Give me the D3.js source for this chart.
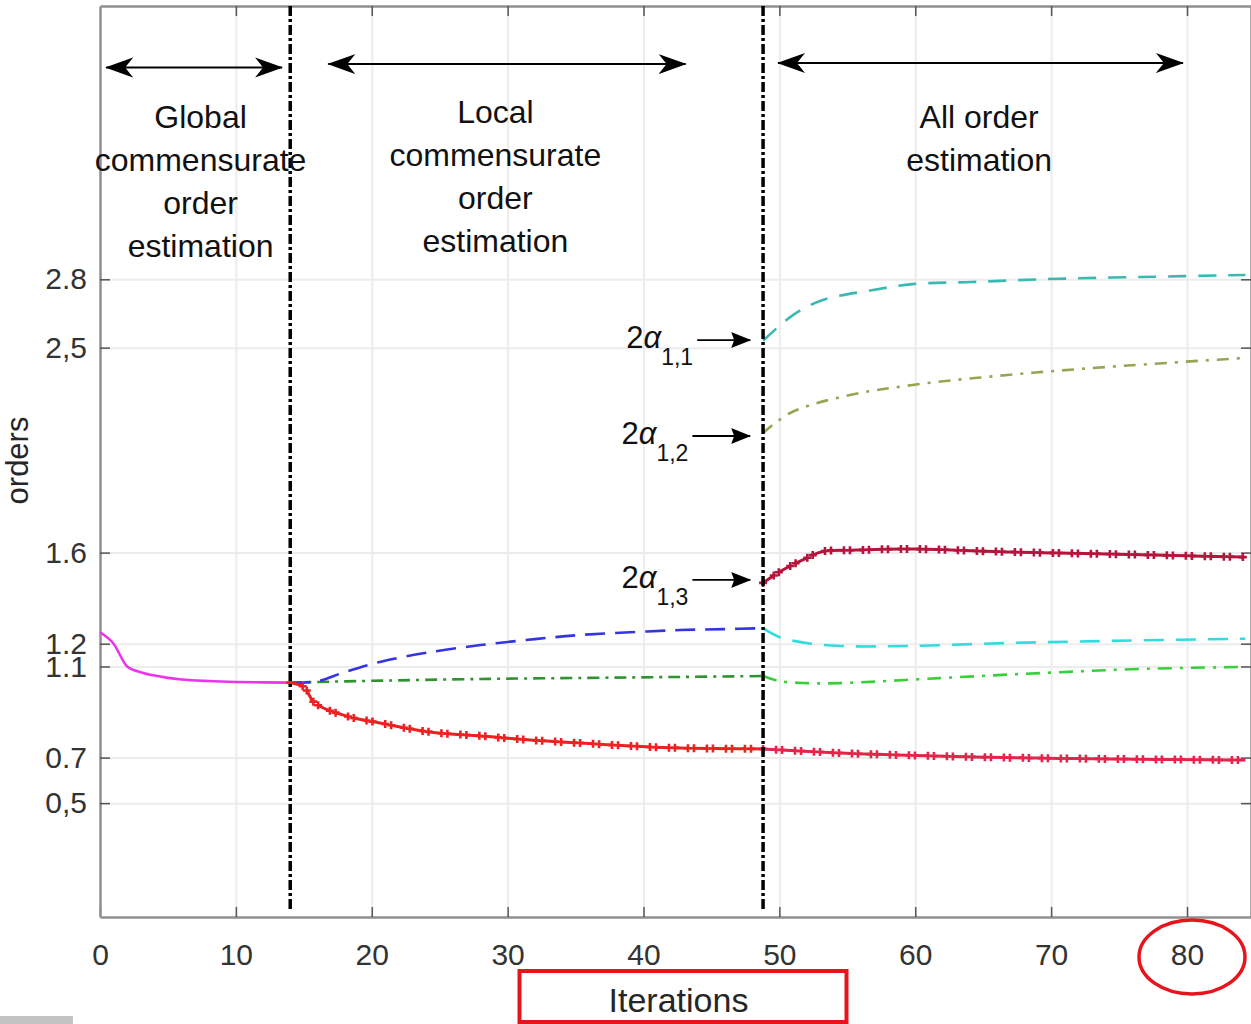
<!DOCTYPE html>
<html>
<head>
<meta charset="utf-8">
<script src="https://cdnjs.cloudflare.com/ajax/libs/d3/7.8.5/d3.min.js"></script>
<style>
  body { margin: 0; background: #fff; }
  text { font-family: "Liberation Sans", Arial, Helvetica, sans-serif; }
</style>
</head>
<body>
<div class="chart"></div>
<script>
var svgWidth = 1251;
var svgHeight = 1024;

var margin = {
  top: 6,
  right: 0,
  bottom: 107,
  left: 100
};

var width = svgWidth - margin.left - margin.right;
var height = svgHeight - margin.top - margin.bottom;

// axis ticks
var xTicks = [0, 10, 20, 30, 40, 50, 60, 70, 80];
var yTicks = [2.8, 2.5, 1.6, 1.2, 1.1, 0.7, 0.5];
var yTickLabels = ["2.8", "2,5", "1.6", "1.2", "1.1", "0.7", "0,5"];

// iteration where each estimation stage switches
var phaseBounds = [14, 48.8];

// stage 1: global commensurate order
var globalIter = [0, 1, 2, 3, 4, 5, 6, 8, 10, 12, 14];
var globalOrder = [1.25, 1.2, 1.1, 1.075, 1.06, 1.05, 1.043, 1.036, 1.032, 1.03, 1.029];

// stage 2: local commensurate orders
var localIterBlue = [14, 16, 18, 20.6, 24, 28, 32, 35.3, 39, 42.7, 46, 48.8];
var localBlue = [1.029, 1.035, 1.075, 1.12, 1.16, 1.194, 1.22, 1.238, 1.25, 1.26, 1.264, 1.268];
var localIterGreen = [14, 16, 20, 28, 36, 42.7, 48.8];
var localGreen = [1.029, 1.032, 1.037, 1.045, 1.05, 1.054, 1.058];
var localIterRed = [14, 15, 15.8, 18.1, 20.6, 24.3, 28, 31.7, 35.3, 39, 42.7, 48.8];
var localRed = [1.029, 1.01, 0.94, 0.883, 0.852, 0.812, 0.795, 0.777, 0.764, 0.751, 0.742, 0.738];

// stage 3: all orders
var allIterA11 = [48.8, 51.0, 53.2, 56.9, 59.8, 64.2, 69.2, 76.5, 84.3];
var allA11 = [2.53, 2.643, 2.709, 2.753, 2.779, 2.788, 2.8, 2.81, 2.819];
var allIterA12 = [48.8, 50.8, 54.5, 59.8, 66.8, 74.1, 84.3];
var allA12 = [2.125, 2.213, 2.283, 2.336, 2.38, 2.415, 2.455];
var allIterA13 = [48.8, 50.0, 52.0, 53.2, 55.7, 59.4, 66.8, 74.1, 84.3];
var allA13 = [1.467, 1.515, 1.576, 1.605, 1.611, 1.616, 1.603, 1.594, 1.58];
var allIterCyan = [48.8, 50.0, 52.0, 54.5, 59.4, 66.8, 74.1, 84.3];
var allCyan = [1.268, 1.229, 1.203, 1.19, 1.19, 1.203, 1.212, 1.222];
var allIterGreen = [48.8, 50.0, 52.0, 54.5, 61.8, 69.2, 76.5, 84.3];
var allGreen = [1.058, 1.036, 1.027, 1.027, 1.049, 1.071, 1.089, 1.098];
var allIterRed = [48.8, 54.5, 64.2, 74.1, 84.3];
var allRed = [0.738, 0.72, 0.703, 0.694, 0.689];

// texts
var phaseTitles = [
  ["Global", "commensurate", "order", "estimation"],
  ["Local", "commensurate", "order", "estimation"],
  ["All order", "estimation"]
];
var phaseTitleX = [7.4, 29.1, 64.7];
var phaseTitleY = [3.464, 3.486, 3.464];
var phaseArrowFrom = [0.45, 16.8, 49.9];
var phaseArrowTo = [13.4, 43.1, 79.7];
var phaseArrowY = [3.73, 3.745, 3.75];

var alphaSubs = ["1,1", "1,2", "1,3"];
var alphaArrowFrom = [43.95, 43.6, 43.6];
var alphaArrowTo = [47.85, 47.85, 47.85];
var alphaArrowY = [2.533, 2.112, 1.48];

var svg = d3
  .select(".chart")
  .append("svg")
  .attr("width", svgWidth)
  .attr("height", svgHeight);

var defs = svg.append("defs");

defs.append("clipPath")
  .attr("id", "plotClip")
  .append("rect")
  .attr("width", width)
  .attr("height", height);

defs.append("marker")
  .attr("id", "headBig")
  .attr("markerUnits", "userSpaceOnUse")
  .attr("markerWidth", 28)
  .attr("markerHeight", 22)
  .attr("refX", 27)
  .attr("refY", 11)
  .attr("orient", "auto-start-reverse")
  .append("path")
  .attr("d", "M0,1 L28,11 L0,21 L8,11 Z")
  .attr("fill", "#000");

defs.append("marker")
  .attr("id", "headSmall")
  .attr("markerUnits", "userSpaceOnUse")
  .attr("markerWidth", 20)
  .attr("markerHeight", 18)
  .attr("refX", 19)
  .attr("refY", 9)
  .attr("orient", "auto")
  .append("path")
  .attr("d", "M0,1 L20,9 L0,17 L3,9 Z")
  .attr("fill", "#000");

var chartGroup = svg.append("g")
  .attr("transform", `translate(${margin.left}, ${margin.top})`);

var xLinearScale = d3.scaleLinear()
  .domain([0, 84.71])
  .range([0, width]);

var yLinearScale = d3.scaleLinear()
  .domain([0, 4])
  .range([height, 0]);

// grid
chartGroup.append("g")
  .attr("class", "grid")
  .call(d3.axisLeft(yLinearScale).tickValues(yTicks).tickSize(-width).tickFormat(""))
  .call(g => g.select(".domain").remove())
  .call(g => g.selectAll("line").attr("stroke", "#ececec").attr("stroke-width", 2));

chartGroup.append("g")
  .attr("class", "grid")
  .attr("transform", `translate(0, ${height})`)
  .call(d3.axisBottom(xLinearScale).tickValues(xTicks.slice(1)).tickSize(-height).tickFormat(""))
  .call(g => g.select(".domain").remove())
  .call(g => g.selectAll("line").attr("stroke", "#ececec").attr("stroke-width", 2));

// axes
var bottomAxis = d3.axisBottom(xLinearScale)
  .tickValues(xTicks)
  .tickSize(-10)
  .tickSizeOuter(0)
  .tickPadding(27)
  .tickFormat(d3.format("d"));

var leftAxis = d3.axisLeft(yLinearScale)
  .tickValues(yTicks)
  .tickSize(-10)
  .tickSizeOuter(0)
  .tickPadding(13)
  .tickFormat((d, i) => yTickLabels[i]);

function styleAxis(g) {
  g.select(".domain").attr("stroke", "#8f8f8f").attr("stroke-width", 2.5);
  g.selectAll(".tick line").attr("stroke", "#555").attr("stroke-width", 1.5);
  g.selectAll(".tick text")
    .attr("fill", "#333")
    .style("font-size", "30px")
    .style("font-family", "'Liberation Sans', Arial, sans-serif");
}

chartGroup.append("g")
  .attr("transform", `translate(0, ${height})`)
  .call(bottomAxis)
  .call(styleAxis);

chartGroup.append("g")
  .call(leftAxis)
  .call(styleAxis);

chartGroup.append("g")
  .call(d3.axisTop(xLinearScale).tickValues(xTicks.slice(1)).tickSize(-10).tickSizeOuter(0).tickFormat(""))
  .call(styleAxis);

chartGroup.append("g")
  .attr("transform", `translate(${width}, 0)`)
  .call(d3.axisRight(yLinearScale).tickValues(yTicks).tickSize(-10).tickSizeOuter(0).tickFormat(""))
  .call(styleAxis);

// series
var series = [
  {x: globalIter, y: globalOrder, color: "#ee33ee", dash: null},
  {x: localIterGreen, y: localGreen, color: "#2f932f", dash: "12,6,3,6"},
  {x: localIterBlue, y: localBlue, color: "#3434e4", dash: "20,10"},
  {x: localIterRed, y: localRed, color: "#ec2222", dash: "13,6", plus: true},
  {x: allIterA11, y: allA11, color: "#3bb8b0", dash: "18,12"},
  {x: allIterA12, y: allA12, color: "#98a452", dash: "12,8,3,8"},
  {x: allIterA13, y: allA13, color: "#b5143c", dash: "13,6", plus: true},
  {x: allIterCyan, y: allCyan, color: "#30dcdc", dash: "20,12"},
  {x: allIterGreen, y: allGreen, color: "#38d038", dash: "14,8,3,8"},
  {x: allIterRed, y: allRed, color: "#e2254a", dash: "13,6", plus: true}
];

var lineSharp = d3.line()
  .x(d => xLinearScale(d[0]))
  .y(d => yLinearScale(d[1]))
  .curve(d3.curveMonotoneX);

var lineSmooth = d3.line()
  .x(d => xLinearScale(d[0]))
  .y(d => yLinearScale(d[1]))
  .curve(d3.curveCatmullRom.alpha(0.5));

var linesGroup = chartGroup.append("g")
  .attr("clip-path", "url(#plotClip)");

series.forEach(function(s, si) {
  var pts = s.x.map((v, i) => [v, s.y[i]]);
  var path = linesGroup.append("path")
    .datum(pts)
    .attr("d", si === 0 ? lineSharp : lineSmooth)
    .attr("fill", "none")
    .attr("stroke", s.color)
    .attr("stroke-width", s.plus ? 3 : 2.6)
    .attr("stroke-dasharray", s.dash);

  if (s.plus) {
    var node = path.node();
    var len = node.getTotalLength();
    var marks = [];
    for (var k = 0; k <= len; k += 19) {
      marks.push(k);
      if (k + 13 <= len) marks.push(k + 13);
    }
    linesGroup.selectAll(null)
      .data(marks)
      .enter()
      .append("path")
      .attr("transform", function(d) {
        var p = node.getPointAtLength(d);
        return `translate(${p.x}, ${p.y})`;
      })
      .attr("d", "M-4,0H4M0,-4V4")
      .attr("stroke", s.color)
      .attr("stroke-width", 2.6);
  }
});

// stage boundaries
chartGroup.selectAll(".phase-line")
  .data(phaseBounds)
  .enter()
  .append("line")
  .attr("class", "phase-line")
  .attr("x1", d => xLinearScale(d))
  .attr("x2", d => xLinearScale(d))
  .attr("y1", 0)
  .attr("y2", height - 5)
  .attr("stroke", "#000")
  .attr("stroke-width", 3.5)
  .attr("stroke-dasharray", "10,3,3,3");

// stage arrows and titles
phaseArrowFrom.forEach(function(a, i) {
  chartGroup.append("line")
    .attr("x1", xLinearScale(a))
    .attr("x2", xLinearScale(phaseArrowTo[i]))
    .attr("y1", yLinearScale(phaseArrowY[i]))
    .attr("y2", yLinearScale(phaseArrowY[i]))
    .attr("stroke", "#000")
    .attr("stroke-width", 2)
    .attr("marker-start", "url(#headBig)")
    .attr("marker-end", "url(#headBig)");

  var t = chartGroup.append("text")
    .attr("x", xLinearScale(phaseTitleX[i]))
    .attr("y", yLinearScale(phaseTitleY[i]))
    .attr("text-anchor", "middle")
    .attr("fill", "#111")
    .style("font-size", "32px");
  phaseTitles[i].forEach(function(txt, j) {
    t.append("tspan")
      .attr("x", xLinearScale(phaseTitleX[i]))
      .attr("dy", j === 0 ? 0 : 43)
      .text(txt);
  });
});

// 2 alpha annotations
alphaSubs.forEach(function(sub, i) {
  var y = yLinearScale(alphaArrowY[i]);
  chartGroup.append("line")
    .attr("x1", xLinearScale(alphaArrowFrom[i]))
    .attr("x2", xLinearScale(alphaArrowTo[i]))
    .attr("y1", y)
    .attr("y2", y)
    .attr("stroke", "#000")
    .attr("stroke-width", 1.8)
    .attr("marker-end", "url(#headSmall)");

  var t = chartGroup.append("text")
    .attr("x", xLinearScale(alphaArrowFrom[i]) - 4)
    .attr("y", y + 8)
    .attr("text-anchor", "end")
    .attr("fill", "#111")
    .style("font-size", "31px");
  t.append("tspan").text("2");
  t.append("tspan").style("font-style", "italic").text("α");
  t.append("tspan")
    .attr("dy", 17)
    .style("font-size", "23px")
    .text(sub);
});

// axis labels
svg.append("text")
  .attr("transform", `translate(28, ${margin.top + height / 2 - 1}) rotate(-90)`)
  .attr("text-anchor", "middle")
  .attr("fill", "#262626")
  .style("font-size", "31px")
  .text("orders");

var xLabelX = margin.left + width / 2 + 3;
svg.append("text")
  .attr("x", xLabelX)
  .attr("y", 1012)
  .attr("text-anchor", "middle")
  .attr("fill", "#262626")
  .style("font-size", "34px")
  .text("Iterations");

// highlight marks drawn over the figure
svg.append("rect")
  .attr("x", xLabelX - 159)
  .attr("y", 971)
  .attr("width", 327)
  .attr("height", 51)
  .attr("fill", "none")
  .attr("stroke", "#e8141c")
  .attr("stroke-width", 4);

svg.append("ellipse")
  .attr("cx", margin.left + xLinearScale(80) + 5)
  .attr("cy", 957)
  .attr("rx", 53)
  .attr("ry", 37)
  .attr("fill", "none")
  .attr("stroke", "#e8141c")
  .attr("stroke-width", 3.5);

svg.append("rect")
  .attr("x", 0)
  .attr("y", 1016)
  .attr("width", 73)
  .attr("height", 8)
  .attr("fill", "#c4c4c4");
</script>
</body>
</html>
